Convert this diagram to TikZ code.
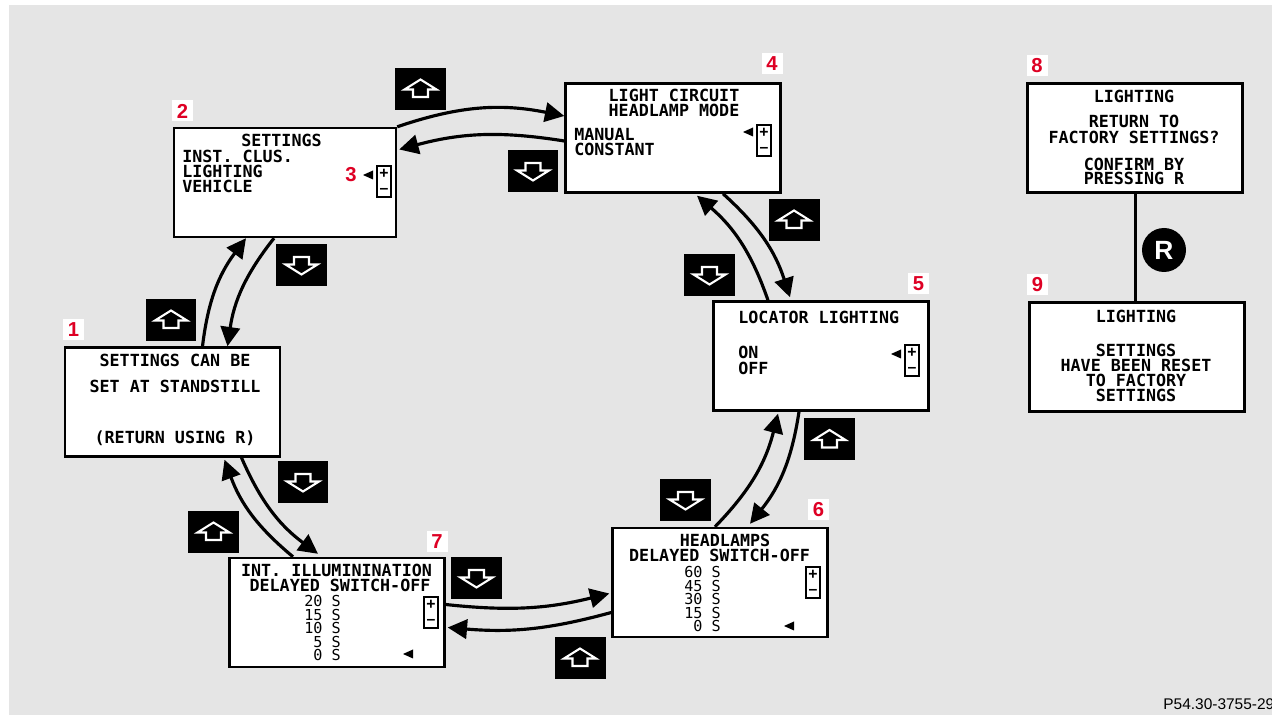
\documentclass[tikz,border=0pt]{standalone}
\usepackage{fontspec}
\setmainfont{Liberation Sans}
\setsansfont{Liberation Sans}
\setmonofont{DejaVu Sans Mono}
\usetikzlibrary{arrows.meta,positioning,calc}
\definecolor{panelgrey}{RGB}{229,229,229}
\definecolor{labelred}{RGB}{222,0,36}
\colorlet{figink}{black}

\tikzset{
  screen/.style={draw=figink, fill=white, line width=1.4pt, minimum width=4.3cm, minimum height=2.18cm, inner sep=0pt},
  lcd/.style={font=\ttfamily\bfseries\fontsize{9.5}{10}\selectfont, inner sep=0pt, text height=6.7pt, text depth=0pt},
  lcdthin/.style={font=\ttfamily\fontsize{8.6}{9}\selectfont, inner sep=0pt, text height=6.1pt, text depth=0pt},
  tag/.style={fill=white, text=labelred, font=\sffamily\bfseries\fontsize{11.5}{11.5}\selectfont, minimum size=0.42cm, inner sep=0pt},
  pmsign/.style={font=\sffamily\bfseries\fontsize{9}{9}\selectfont, inner sep=0pt, text height=5pt, text depth=0pt},
  keybox/.style={fill=figink, minimum width=1.02cm, minimum height=0.84cm, inner sep=0pt},
  keyglyph/.style={draw=white, line width=1.2pt, line join=miter},
  link/.style={draw=figink, line width=1.8pt, -{Triangle[length=11pt,width=11pt]}},
}

\begin{document}
\begin{tikzpicture}[x=0.02cm, y=-0.02cm]
  \useasboundingbox (0,0) rectangle (1272,715);
  \fill[white] (0,0) rectangle (1272,715);
  \fill[panelgrey] (9,5) rectangle (1272,715);

  \node[screen] (s1) at (172.5,402) {};
  \node[screen, minimum width=4.44cm] (s2) at (285,182.5) {};
  \node[screen] (s4) at (673,138) {};
  \node[screen] (s5) at (821,356) {};
  \node[screen] (s6) at (720,582.5) {};
  \node[screen] (s7) at (337,612.5) {};
  \node[screen] (s8) at (1135,138) {};
  \node[screen] (s9) at (1137,357) {};

  \foreach \x/\y/\t [count=\i] in {
    175/367/SETTINGS CAN BE, 175/393/SET AT STANDSTILL, 175/444/(RETURN USING R),
    281.5/147/SETTINGS,
    674/102/LIGHT CIRCUIT, 674/117/HEADLAMP MODE,
    725/547/HEADLAMPS, 719.5/562/DELAYED SWITCH-OFF,
    336.5/577/INT. ILLUMININATION, 340/592/DELAYED SWITCH-OFF,
    1134/103/LIGHTING, 1134/128/RETURN TO, 1134/144/FACTORY SETTINGS?,
    1134/171/CONFIRM BY, 1134/185/PRESSING R,
    1136/323/LIGHTING, 1136/357/SETTINGS, 1136/372/HAVE BEEN RESET,
    1136/387/TO FACTORY, 1136/402/SETTINGS%
  } {
    \node[lcd, anchor=base] (ct\i) at (\x,\y) {\t};
  }

  \foreach \x/\y/\t [count=\i] in {
    182/163/INST. CLUS., 182/178/LIGHTING, 182/193/VEHICLE,
    574/141/MANUAL, 574/156/CONSTANT,
    738/324/LOCATOR LIGHTING, 738/359/ON, 738/375/OFF%
  } {
    \node[lcd, anchor=base west] (lt\i) at (\x,\y) {\t};
  }

  \foreach \x/\y/\t [count=\i] in {
    721/578/60 S, 721/591.5/45 S, 721/605/30 S, 721/618.5/15 S, 721/632/0 S,
    341/607/20 S, 341/620.5/15 S, 341/634/10 S, 341/647.5/5 S, 341/661/0 S%
  } {
    \node[lcdthin, anchor=base east] (rt\i) at (\x,\y) {\t};
  }

  \foreach \x/\y [count=\i] in {377/166, 757/125, 905/345, 806/567, 424/597} {
    \draw[figink, line width=0.8pt] (\x,\y) rectangle ++(14,31);
    \node[pmsign] (plus\i) at (\x+7,\y+8) {+};
    \node[pmsign] (minus\i) at (\x+7,\y+23) {--};
  }

  \foreach \x/\y in {373/175, 753/132, 901/354, 794/626, 413/654} {
    \fill[figink] (\x,\y-4.5) -- (\x,\y+4.5) -- (\x-10,\y) -- cycle;
  }

  \node[tag] (n1) at (73.5,329.5) {1};
  \node[tag] (n2) at (182.5,111) {2};
  \node[text=labelred, font=\sffamily\bfseries\fontsize{11.5}{11.5}\selectfont, inner sep=0pt] (n3) at (351,175) {3};
  \node[tag] (n4) at (772,64) {4};
  \node[tag] (n5) at (918.5,284) {5};
  \node[tag] (n6) at (818.5,509.5) {6};
  \node[tag] (n7) at (437,541.5) {7};
  \node[tag] (n8) at (1037,66) {8};
  \node[tag] (n9) at (1037.5,285) {9};

  \foreach \x/\y [count=\i] in {420.5/89, 171/320, 213.5/532, 580/658, 829.5/439.5, 794/220} {
    \node[keybox] (up\i) at (\x,\y) {};
    \draw[keyglyph] ($(up\i)+(0,-9.5)$) -- ++(16,10) -- ++(-8.5,0) -- ++(0,7.5)
      -- ++(-15,0) -- ++(0,-7.5) -- ++(-8.5,0) -- cycle;
  }
  \foreach \x/\y [count=\i] in {533/171, 301.5/265, 303/482, 476.5/578, 685.5/500, 709.5/275} {
    \node[keybox] (down\i) at (\x,\y) {};
    \draw[keyglyph] ($(down\i)+(0,9.5)$) -- ++(16,-10) -- ++(-8.5,0) -- ++(0,-7.5)
      -- ++(-15,0) -- ++(0,7.5) -- ++(-8.5,0) -- cycle;
  }

  \draw[link] ($(s1.north)+(30,0)$) to[bend left=15] ($(s2.south)+(-39,0)$);
  \draw[link] ($(s2.south)+(-11,0)$) to[bend right=15] ($(s1.north)+(55,0)$);
  \draw[link] (s2.north east) to[bend left=15] ($(s4.west)+(0,-22)$);
  \draw[link] ($(s4.west)+(0,3)$) to[bend right=12] ($(s2.east)+(2,-33)$);
  \draw[link] ($(s4.south)+(50,0)$) to[bend left=15] ($(s5.north)+(-31,-3)$);
  \draw[link] ($(s5.north)+(-53,0)$) to[bend right=15] ($(s4.south)+(24,2)$);
  \draw[link] ($(s5.south)+(-22,0)$) to[bend left=15] ($(s6.north)+(30,-3)$);
  \draw[link] ($(s6.north)+(-5,0)$) to[bend right=15] ($(s5.south)+(-43,2)$);
  \draw[link] ($(s6.west)+(0,30)$) to[bend left=10] ($(s7.east)+(2,15)$);
  \draw[link] ($(s7.east)+(0,-8)$) to[bend right=10] ($(s6.west)+(-2,11)$);
  \draw[link] ($(s7.north)+(-44,0)$) to[bend left=15] ($(s1.south)+(52,2)$);
  \draw[link] ($(s1.south)+(69,0)$) to[bend right=15] ($(s7.north)+(-19,-3)$);

  \draw[figink, line width=1.7pt] (s8.south) -- (s8.south |- s9.north);
  \node[circle, fill=figink, text=white, minimum size=0.88cm, inner sep=0pt,
    font=\sffamily\bfseries\fontsize{15}{15}\selectfont] (reset) at (1164,250) {R};

  \node[anchor=base west, font=\sffamily\fontsize{8.8}{9}\selectfont, inner sep=0pt]
    (figref) at (1163,710) {P54.30-3755-29};
\end{tikzpicture}
\end{document}
